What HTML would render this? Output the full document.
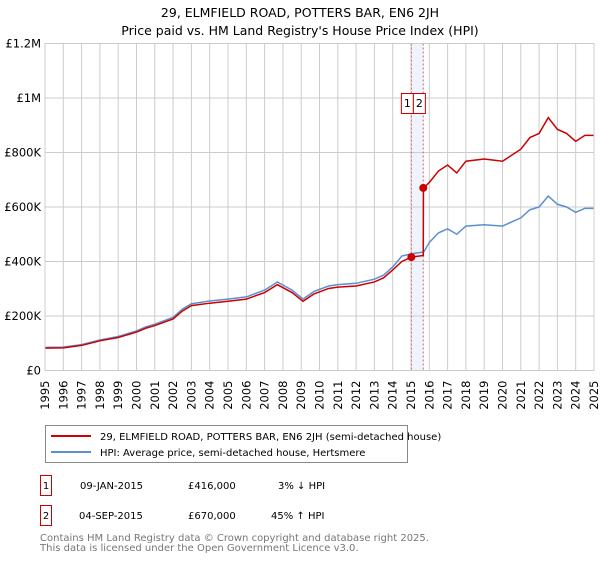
<!DOCTYPE html>
<html><head><meta charset="utf-8"><style>
body{margin:0;background:#fff;font-family:"Liberation Sans","DejaVu Sans",sans-serif;}
svg text{font-family:"DejaVu Sans","Liberation Sans",sans-serif;}
</style></head><body>
<svg id="c" width="600" height="560" xmlns="http://www.w3.org/2000/svg">
<text x="300" y="17" text-anchor="middle" font-size="12.5">29, ELMFIELD ROAD, POTTERS BAR, EN6 2JH</text>
<text x="300" y="35" text-anchor="middle" font-size="12.5">Price paid vs. HM Land Registry's House Price Index (HPI)</text>
<g id="grid"></g><g id="marks"></g><g id="axes"></g>
<g>
<rect x="45.5" y="425.5" width="362" height="37" fill="#fff" stroke="#888"/>
<line x1="51" y1="436" x2="91" y2="436" stroke="#cc0000" stroke-width="2"/>
<text x="100" y="440" font-size="10">29, ELMFIELD ROAD, POTTERS BAR, EN6 2JH (semi-detached house)</text>
<line x1="51" y1="452" x2="91" y2="452" stroke="#5b8fd0" stroke-width="2"/>
<text x="100" y="456" font-size="10">HPI: Average price, semi-detached house, Hertsmere</text>
</g>
<g font-size="10">
<rect x="40.5" y="475.5" width="11" height="20" fill="none" stroke="#cc0000"/>
<text x="46" y="489" text-anchor="middle">1</text>
<text x="80" y="489">09-JAN-2015</text><text x="188" y="489">£416,000</text><text x="278" y="489">3% ↓ HPI</text>
<rect x="40.5" y="505.5" width="11" height="20" fill="none" stroke="#cc0000"/>
<text x="46" y="519" text-anchor="middle">2</text>
<text x="79" y="519">04-SEP-2015</text><text x="188" y="519">£670,000</text><text x="271" y="519">45% ↑ HPI</text>
</g>
<text x="40" y="541" font-size="10" fill="#777">Contains HM Land Registry data © Crown copyright and database right 2025.</text>
<text x="40" y="551" font-size="10" fill="#777">This data is licensed under the Open Government Licence v3.0.</text>
</svg>
<script>
const hpiYears=[1995,1996,1997,1998,1999,2000,2000.5,2001,2002,2002.5,2003,2004,2005,2006,2007,2007.7,2008.5,2009.1,2009.7,2010.5,2011,2012,2013,2013.5,2014,2014.5,2015,2015.7,2016,2016.5,2017,2017.5,2018,2019,2020,2020.5,2021,2021.5,2022,2022.5,2023,2023.5,2024,2024.5,2025];
const hpiValues=[85,86,95,112,125,145,160,170,195,225,245,255,262,270,295,325,295,262,290,310,315,320,335,350,380,420,428,435,470,505,520,500,530,535,530,545,560,590,600,640,610,600,580,595,595];
const priceYears=[1995,1996,1997,1998,1999,2000,2000.5,2001,2002,2002.5,2003,2004,2005,2006,2007,2007.7,2008.5,2009.1,2009.7,2010.5,2011,2012,2013,2013.5,2014,2014.5,2015.02,2015.67,2015.68,2016,2016.5,2017,2017.5,2018,2019,2020,2020.5,2021,2021.5,2022,2022.5,2023,2023.5,2024,2024.5,2025];
const priceValues=[82,83,92,109,121,141,155,165,189,218,238,247,254,262,286,315,286,254,281,301,306,310,325,340,369,400,416,422,670,690,732,754,725,768,776,768,790,812,855,870,928,885,870,841,863,863];
const saleYears=[2015.02,2015.67];
const saleValues=[416,670];
const yTicks=[0,200,400,600,800,1000,1200];
const yTickLabels=["£0","£200K","£400K","£600K","£800K","£1M","£1.2M"];
const xTicks=[1995,1996,1997,1998,1999,2000,2001,2002,2003,2004,2005,2006,2007,2008,2009,2010,2011,2012,2013,2014,2015,2016,2017,2018,2019,2020,2021,2022,2023,2024,2025];
const X0=45,X1=594,Y0=370.5,Y1=43.5;
const xs=v=>X0+(v-1995)/30*(X1-X0);
const ys=v=>Y0-v/1200*(Y0-Y1);
const NS="http://www.w3.org/2000/svg";
function mk(tag,attrs,parent){const e=document.createElementNS(NS,tag);for(const k in attrs)e.setAttribute(k,attrs[k]);parent.appendChild(e);return e;}
const grid=document.getElementById('grid'),marks=document.getElementById('marks'),axes=document.getElementById('axes');
// highlight band
const band=mk('rect',{x:xs(saleYears[0]),y:Y1,width:xs(saleYears[1])-xs(saleYears[0]),height:Y0-Y1,fill:'#eef3fc'},grid);


yTicks.forEach((t,i)=>{
 const l=mk('line',{x1:X0,x2:X1,y1:ys(t),y2:ys(t),stroke:'#ccc'},grid);
 
 
 const tx=mk('text',{x:X0-4,y:ys(t)+4,'text-anchor':'end','font-size':'11.5'},axes);
 tx.textContent=yTickLabels[i];
 
 
});
xTicks.forEach(t=>{
 const l=mk('line',{x1:xs(t),x2:xs(t),y1:Y1,y2:Y0,stroke:'#ccc'},grid);
 
 
 const tx=mk('text',{x:xs(t),y:Y0+10,'text-anchor':'end','font-size':'11.5',transform:`rotate(-90 ${xs(t)} ${Y0+10})`,dy:'4'},axes);
 tx.textContent=String(t);
 
 
});
saleYears.forEach(s=>{
 const l=mk('line',{x1:xs(s),x2:xs(s),y1:Y1,y2:Y0,stroke:'#e06060','stroke-dasharray':'2,2'},grid);
 
 
});
const hp=mk('polyline',{points:hpiYears.map((y,i)=>xs(y)+','+ys(hpiValues[i])).join(' '),fill:'none',stroke:'#5b8fd0','stroke-width':'1.5'},marks);


const pp=mk('polyline',{points:priceYears.map((y,i)=>xs(y)+','+ys(priceValues[i])).join(' '),fill:'none',stroke:'#cc0000','stroke-width':'1.5'},marks);


saleYears.forEach((s,i)=>{
 const c=mk('circle',{cx:xs(s),cy:ys(saleValues[i]),r:4,fill:'#cc0000'},marks);
 
 
});
// axis frame
const fr=mk('rect',{x:X0,y:Y1,width:X1-X0,height:Y0-Y1,fill:'none',stroke:'#ccc'},axes);


// sale labels
['1','2'].forEach((lab,i)=>{
 const bx=xs(saleYears[0])-10+i*12;
 const r=mk('rect',{x:bx,y:93.5,width:12,height:20,fill:'#fff',stroke:'#cc0000'},axes);
 
 
 const t=mk('text',{x:bx+6,y:107,'text-anchor':'middle','font-size':'11'},axes);
 t.textContent=lab;
 
 
});
</script>
</body></html>
